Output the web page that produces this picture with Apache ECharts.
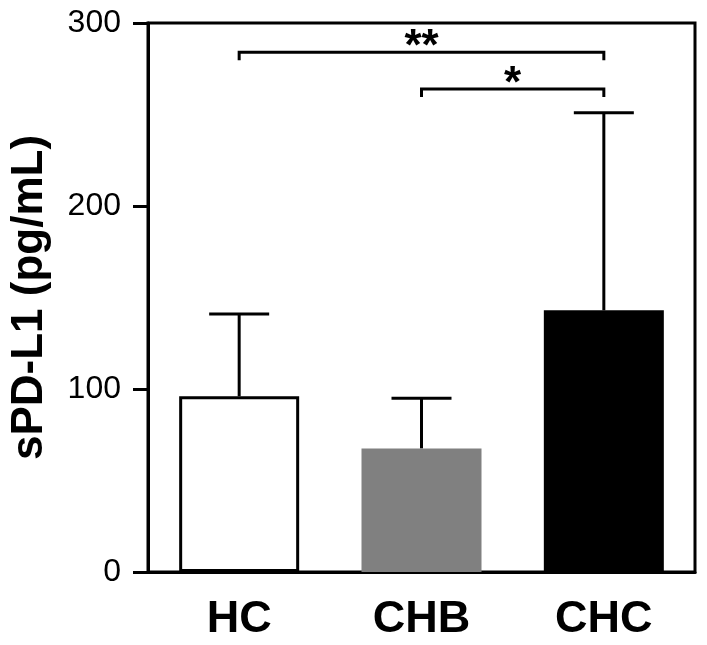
<!DOCTYPE html>
<html>
<head>
<meta charset="utf-8">
<script src="https://cdn.jsdelivr.net/npm/echarts@6/dist/echarts.min.js"></script>
<style>
html,body{margin:0;padding:0;background:#fff;}
#chart{width:707px;height:645px;}
</style>
</head>
<body>
<div id="chart"></div>
<script>
var categories = ['HC', 'CHB', 'CHC'];
var means = [96, 67.5, 143];
var errorTops = [141, 95, 251];
var barColors = ['#ffffff', '#808080', '#000000'];
var yTicks = [0, 100, 200, 300];
var bracketFrom = [0, 1];
var bracketTo = [2, 2];
var bracketY = [284, 264];
var bracketLabels = ['**', '*'];

var FONT = "'Liberation Sans', Arial, Helvetica, sans-serif";

var barData = means.map(function (v, i) {
  return {
    value: v,
    itemStyle: {
      color: barColors[i],
      borderColor: i === 0 ? '#000' : barColors[i],
      borderWidth: i === 0 ? 3 : 0
    }
  };
});

var errData = means.map(function (v, i) { return [i, v, errorTops[i]]; });
var brData = bracketFrom.map(function (f, i) { return [f, bracketTo[i], bracketY[i], i]; });

var chart = echarts.init(document.getElementById('chart'), null, {renderer: 'canvas'});
chart.setOption({
  animation: false,
  backgroundColor: '#fff',
  grid: {left: 146, right: 12, top: 23, bottom: 73, show: true, borderColor: '#000', borderWidth: 3, backgroundColor: 'transparent'},
  xAxis: {
    type: 'category',
    data: categories,
    axisLine: {lineStyle: {color: '#000', width: 3}},
    axisTick: {alignWithLabel: true, length: 15, lineStyle: {color: '#000', width: 3}},
    axisLabel: {color: '#000', fontSize: 45, fontWeight: 'bold', fontFamily: FONT, margin: 25}
  },
  yAxis: {
    type: 'value',
    min: yTicks[0],
    max: yTicks[yTicks.length - 1],
    interval: 100,
    name: 'sPD-L1 (pg/mL)',
    nameLocation: 'middle',
    nameGap: 96,
    nameTextStyle: {color: '#000', fontSize: 44, fontWeight: 'bold', fontFamily: FONT},
    axisLine: {show: true, lineStyle: {color: '#000', width: 3}},
    axisTick: {show: true, length: 15, lineStyle: {color: '#000', width: 3}},
    axisLabel: {color: '#000', fontSize: 32, fontFamily: FONT, margin: 27},
    splitLine: {show: false}
  },
  series: [
    {
      type: 'bar',
      data: barData,
      barWidth: 120,
      z: 2
    },
    {
      type: 'custom',
      data: errData,
      z: 1,
      renderItem: function (params, api) {
        var i = api.value(0);
        var p0 = api.coord([i, api.value(1)]);
        var p1 = api.coord([i, api.value(2)]);
        var hw = 30;
        return {
          type: 'group',
          children: [
            {type: 'line', shape: {x1: p0[0], y1: p0[1], x2: p1[0], y2: p1[1]}, style: {stroke: '#000', lineWidth: 3}},
            {type: 'line', shape: {x1: p1[0] - hw, y1: p1[1], x2: p1[0] + hw, y2: p1[1]}, style: {stroke: '#000', lineWidth: 3}}
          ]
        };
      }
    },
    {
      type: 'custom',
      data: brData,
      z: 3,
      renderItem: function (params, api) {
        var a = api.coord([api.value(0), api.value(2)]);
        var b = api.coord([api.value(1), api.value(2)]);
        var idx = api.value(3);
        var drop = 8;
        return {
          type: 'group',
          children: [
            {type: 'polyline', shape: {points: [[a[0], a[1] + drop], [a[0], a[1]], [b[0], b[1]], [b[0], b[1] + drop]]}, style: {stroke: '#000', lineWidth: 3, fill: null}},
            {type: 'text', style: {text: bracketLabels[idx], x: (a[0] + b[0]) / 2, y: a[1] - 4, align: 'center', verticalAlign: 'middle', fill: '#000', font: 'bold 44px ' + FONT}}
          ]
        };
      }
    }
  ]
});
</script>
</body>
</html>
